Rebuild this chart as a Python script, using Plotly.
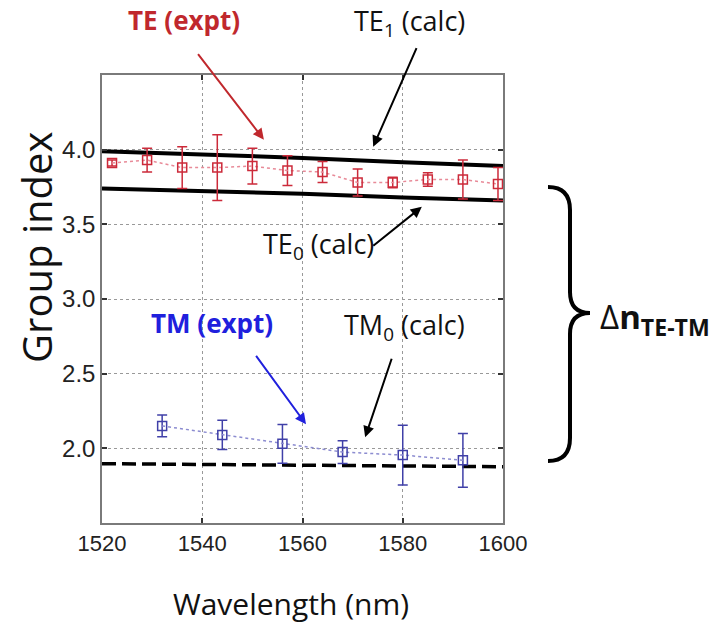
import plotly.graph_objects as go

# ---------------- data ----------------
te_wl = [1522, 1529, 1536, 1543, 1550, 1557, 1564, 1571, 1578, 1585, 1592, 1599]
te_ng = [3.91, 3.93, 3.88, 3.88, 3.89, 3.86, 3.85, 3.78, 3.78, 3.80, 3.80, 3.77]
te_err = [0.02, 0.08, 0.14, 0.22, 0.12, 0.10, 0.07, 0.09, 0.035, 0.045, 0.13, 0.11]

tm_wl = [1532, 1544, 1556, 1568, 1580, 1592]
tm_ng = [2.15, 2.09, 2.03, 1.975, 1.955, 1.92]
tm_err = [0.073, 0.098, 0.13, 0.076, 0.20, 0.18]

calc_wl = [1520, 1540, 1560, 1580, 1600]
te1_calc = [3.99, 3.97, 3.945, 3.915, 3.89]
te0_calc = [3.74, 3.725, 3.705, 3.68, 3.66]
tm0_calc = [1.897, 1.893, 1.888, 1.882, 1.877]

x_ticks = [1520, 1540, 1560, 1580, 1600]
y_ticks = [2.0, 2.5, 3.0, 3.5, 4.0]
y_ticklabels = ["2.0", "2.5", "3.0", "3.5", "4.0"]

# ---------------- layout geometry ----------------
W, H = 715, 626
L, R, T, B = 102, 503, 75, 523


def px(x, y):
    return (x - L) / (R - L), (B - y) / (B - T)


TE_RED = "#cc2a3a"
TM_BLUE = "#4040a8"

fig = go.Figure()

# calc lines
fig.add_trace(go.Scatter(x=calc_wl, y=te1_calc, mode="lines",
                         line=dict(color="black", width=4), showlegend=False))
fig.add_trace(go.Scatter(x=calc_wl, y=te0_calc, mode="lines",
                         line=dict(color="black", width=4), showlegend=False))
fig.add_trace(go.Scatter(x=calc_wl, y=tm0_calc, mode="lines",
                         line=dict(color="black", width=3.5, dash="14px,6px"), showlegend=False))

# experimental TE
fig.add_trace(go.Scatter(
    x=te_wl, y=te_ng, mode="lines+markers",
    line=dict(color="#e88a98", width=1.5, dash="dot"),
    marker=dict(symbol="square-open", size=9, color=TE_RED, line=dict(width=1.5)),
    error_y=dict(type="data", array=te_err, color=TE_RED, thickness=1.5, width=5),
    showlegend=False))

# experimental TM
fig.add_trace(go.Scatter(
    x=tm_wl, y=tm_ng, mode="lines+markers",
    line=dict(color="#8c8cd0", width=1.5, dash="dot"),
    marker=dict(symbol="square-open", size=9, color=TM_BLUE, line=dict(width=1.5)),
    error_y=dict(type="data", array=tm_err, color=TM_BLUE, thickness=1.5, width=5),
    showlegend=False))

axis_common = dict(showline=True, linecolor="#7a7a7a", linewidth=1.5, mirror="ticks",
                   ticks="inside", ticklen=5, tickcolor="#333", tickwidth=1.5,
                   showgrid=True, gridcolor="#999", griddash="dot", gridwidth=1,
                   zeroline=False)

fig.update_xaxes(range=[1520, 1600], tickvals=x_ticks,
                 tickfont=dict(family="Liberation Sans, Arial", size=22, color="#222"),
                 **axis_common)
fig.update_yaxes(range=[1.5, 4.5], tickvals=y_ticks, ticktext=y_ticklabels,
                 tickfont=dict(family="Liberation Sans, Arial", size=24, color="#222"),
                 **axis_common)

anns = []


def text_ann(text, x, y, size, color="#111", angle=0, xanchor="center"):
    xx, yy = px(x, y)
    anns.append(dict(x=xx, y=yy, xref="paper", yref="paper", text=text, textangle=angle,
                     xanchor=xanchor, yanchor="middle", showarrow=False,
                     font=dict(family="Open Sans", size=size, color=color)))


# axis titles
text_ann("Wavelength (nm)", 291, 603, 30)
text_ann("Group index", 36, 248, 40, angle=-90)

# label texts
text_ann("<b>TE (expt)</b>", 184, 20, 26, "#c0282d")
text_ann("TE<sub>1</sub> (calc)", 409, 22, 27)
text_ann("TE<sub>0</sub> (calc)", 318, 245, 27)
text_ann("<b>TM (expt)</b>", 212, 323, 26, "#2020dd")
text_ann("TM<sub>0</sub> (calc)", 404, 326, 27)
text_ann("Δ<b>n<sub>TE-TM</sub></b>", 598, 318, 33, xanchor="left")

# arrows: head in data coords, tail offset in pixels
arrows = [
    (1552.3, 4.067, -67, -87, "#c0282d"),
    (1574.1, 4.02, 44, -100, "black"),
    (1583.8, 3.617, -50, 40, "black"),
    (1560.7, 2.161, -51, -70, "#2020dd"),
    (1572.5, 2.074, 27, -80, "black"),
]
for x, y, ax, ay, c in arrows:
    anns.append(dict(x=x, y=y, xref="x", yref="y", ax=ax, ay=ay, text="", showarrow=True,
                     arrowhead=2, arrowsize=1.1, arrowwidth=2, arrowcolor=c))


# brace shape
def P(x, y):
    a, b = px(x, y)
    return f"{a:.5f},{b:.5f}"


brace = (f"M {P(548,187)} Q {P(570,187)} {P(570,210)} L {P(570,292)} "
         f"Q {P(570,313)} {P(590,313)} Q {P(570,313)} {P(570,334)} "
         f"L {P(570,438)} Q {P(570,461)} {P(548,461)}")

fig.update_layout(
    width=W, height=H,
    margin=dict(l=L, r=W - R, t=T, b=H - B),
    paper_bgcolor="white", plot_bgcolor="white",
    annotations=anns,
    shapes=[dict(type="path", path=brace, xref="paper", yref="paper",
                 line=dict(color="black", width=4))],
)

fig.write_html("out.html", config={"displayModeBar": False},
               post_script="document.body.style.margin='0';")
